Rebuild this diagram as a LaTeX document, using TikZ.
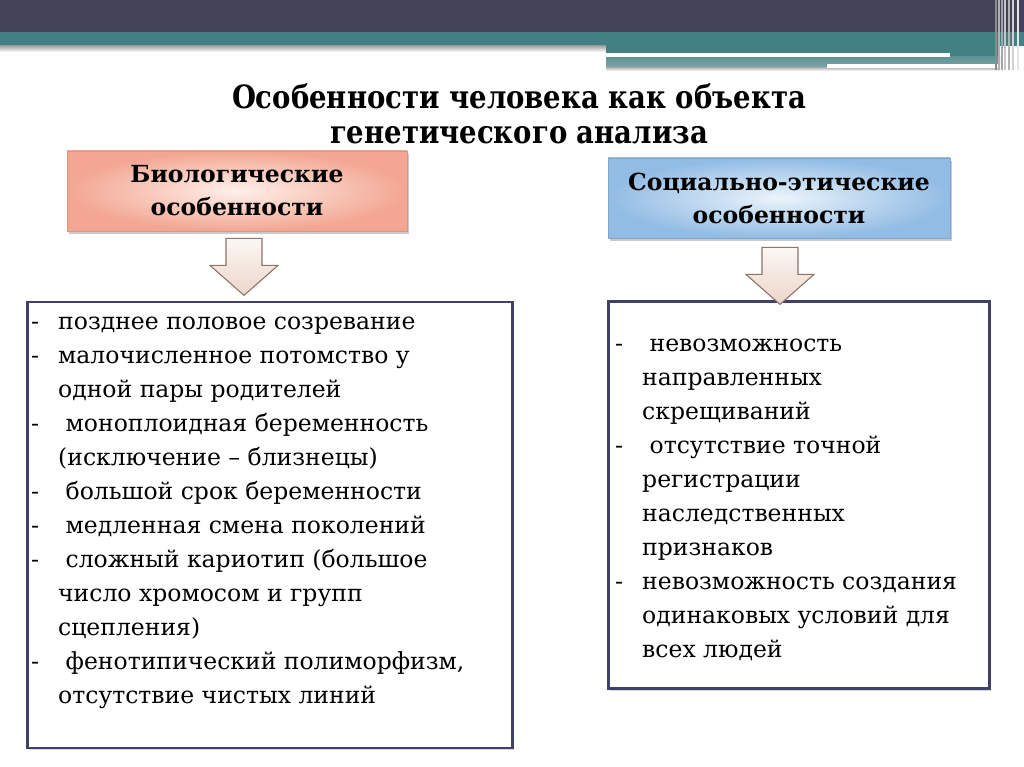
\documentclass[tikz,border=0pt]{standalone}
\usepackage{fontspec}
\setmainfont{DejaVu Serif}
\newfontfamily\ttlfont[FakeStretch=0.86]{DejaVu Serif}
\usetikzlibrary{positioning,calc,shadows}
\definecolor{bardark}{RGB}{66,66,88}
\definecolor{barteal}{RGB}{66,128,132}
\definecolor{barpale}{RGB}{132,164,164}
\definecolor{bioedge}{RGB}{243,166,146}
\definecolor{biomid}{RGB}{254,240,234}
\definecolor{bioline}{RGB}{226,146,126}
\definecolor{socedge}{RGB}{146,188,228}
\definecolor{socmid}{RGB}{236,244,251}
\definecolor{socline}{RGB}{126,166,208}
\definecolor{listline}{RGB}{64,64,104}
\definecolor{arrtop}{RGB}{252,247,244}
\definecolor{arrbot}{RGB}{236,214,202}
\definecolor{arrline}{RGB}{140,116,102}
\newcommand\dsh{\makebox[27pt][l]{-}}
\newcommand\ind{\hspace*{27pt}}
\tikzset{
  ttl/.style={font=\ttlfont\bfseries\fontsize{32}{35}\selectfont, align=center},
  hdr/.style={shading=radial, draw, line width=0.8pt, minimum height=80pt,
              font=\bfseries\fontsize{23.5}{33}\selectfont, align=center,
              drop shadow={shadow xshift=2pt, shadow yshift=-3pt, opacity=0.35, fill=black!60}},
  biohdr/.style={hdr, inner color=biomid, outer color=bioedge, draw=bioline, minimum width=340pt},
  sochdr/.style={hdr, inner color=socmid, outer color=socedge, draw=socline, minimum width=342pt},
  lst/.style={draw=listline, line width=2.5pt, fill=white,
              drop shadow={shadow xshift=1.5pt, shadow yshift=-2pt, opacity=0.25, fill=black!60}},
  lsttxt/.style={anchor=north west, inner sep=0pt, align=left, font=\fontsize{23.5}{34}\selectfont},
  blkarr/.style={top color=arrtop, bottom color=arrbot, draw=arrline, line width=1.1pt, line join=miter},
}
\begin{document}
\begin{tikzpicture}[x=1pt, y=-1pt]
\useasboundingbox (0,0) rectangle (1024,767);
\fill[white] (0,0) rectangle (1024,767);
% top bar
\fill[bardark] (0,0) rectangle (1024,32);
\fill[barteal] (0,32) rectangle (1024,46);
\shade[top color=black!35, bottom color=white] (0,46) rectangle (606,52);
\fill[barteal] (606,46) rectangle (1000,57);
\shade[top color=barteal!85!white, bottom color=barpale] (606,57) rectangle (1000,68);
\shade[top color=black!25, bottom color=white] (606,68) rectangle (1000,71);
\fill[white] (606,53) rectangle (950,57);
\fill[white] (827,64) rectangle (1007,68);
\foreach \xx/\cc in {995/black!45,998/gray!60,1001/black!35,1004/gray!45,1008/black!30,1012/gray!35,1017/gray!20}
  \fill[\cc] (\xx,0) rectangle ++(2,70);

\node[ttl] (title) at (519,114) {Особенности человека как объекта\\генетического анализа};

\node[biohdr] (bio) at (237,191) {Биологические\\особенности};
\node[sochdr] (soc) at (779,198) {Социально-этические\\особенности};

\node[lst, minimum width=485pt, minimum height=446pt] (biolst) at (270,525) {};
\node[lst, minimum width=381pt, minimum height=387pt] (soclst) at (799,495) {};

\coordinate (bioarr) at ([xshift=7pt,yshift=-7pt]bio.south);
\coordinate (socarr) at ([xshift=1pt,yshift=-9pt]soc.south);
\foreach \a in {bioarr,socarr}
  \path[blkarr] (\a) ++(-18,0) -- ++(36,0) -- ++(0,27) -- ++(16,0) -- ++(-34,30) -- ++(-34,-30) -- ++(16,0) -- cycle;

\node[lsttxt] (biotxt) at (31,317) {\dsh позднее половое созревание\\
\dsh малочисленное потомство у\\
\ind одной пары родителей\\
\dsh\ моноплоидная беременность\\
\ind(исключение – близнецы)\\
\dsh\ большой срок беременности\\
\dsh\ медленная смена поколений\\
\dsh\ сложный кариотип (большое\\
\ind число хромосом и групп\\
\ind сцепления)\\
\dsh\ фенотипический полиморфизм,\\
\ind отсутствие чистых линий};

\node[lsttxt] (soctxt) at (615,339) {\dsh\ невозможность\\
\ind направленных\\
\ind скрещиваний\\
\dsh\ отсутствие точной\\
\ind регистрации\\
\ind наследственных\\
\ind признаков\\
\dsh невозможность создания\\
\ind одинаковых условий для\\
\ind всех людей};
\end{tikzpicture}
\end{document}
